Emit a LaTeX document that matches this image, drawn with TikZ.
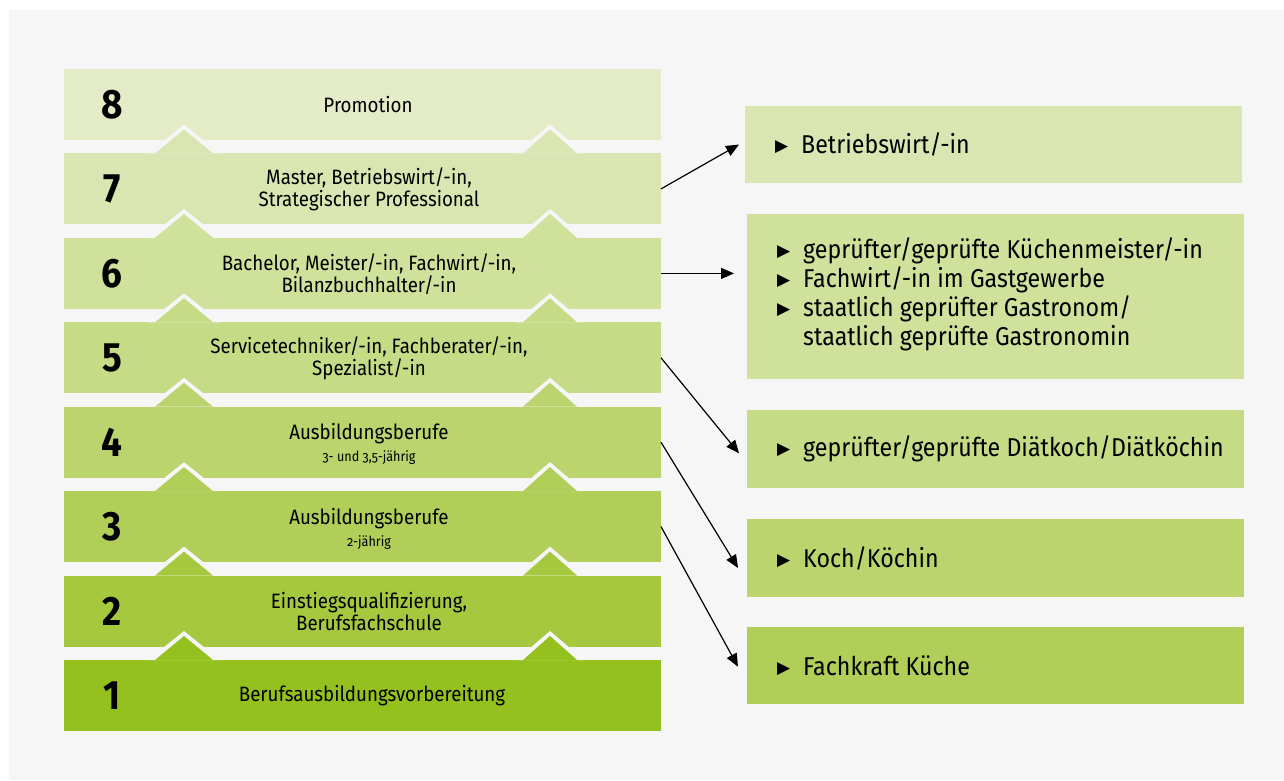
\documentclass[tikz,border=0pt]{standalone}
\usepackage{fontspec}
\setmainfont{Fira Sans}[FakeStretch=0.9]
\newfontfamily\symfont{DejaVu Sans}
\usepackage{tikz}
\usetikzlibrary{arrows.meta}

\definecolor{panel}{HTML}{F6F6F6}
\definecolor{lv8}{HTML}{E3ECC7}
\definecolor{lv7}{HTML}{DAE6B1}
\definecolor{lv6}{HTML}{D0E19B}
\definecolor{lv5}{HTML}{C6DB85}
\definecolor{lv4}{HTML}{BBD46E}
\definecolor{lv3}{HTML}{B1CE59}
\definecolor{lv2}{HTML}{A5C83E}
\definecolor{lv1}{HTML}{95C11F}

\newcommand{\itemmark}{\makebox[26pt][l]{\raisebox{2pt}{\symfont\fontsize{17}{17}\selectfont ▶}}}
\newcommand{\subline}[1]{{\fontsize{14}{15}\selectfont\addfontfeatures{Numbers=OldStyle}#1}}

\begin{document}
\begin{tikzpicture}[x=1pt, y=-1pt]
    % Styles
    \tikzstyle{band} = [rectangle, inner sep=0, outer sep=0, minimum width=597pt, minimum height=71pt]
    \tikzstyle{level} = [font=\fontsize{41}{41}\selectfont\bfseries]
    \tikzstyle{label} = [align=center, font=\fontsize{20.8}{22}\selectfont]
    \tikzstyle{goal} = [rectangle, inner sep=0, outer sep=0, minimum width=497pt]
    \tikzstyle{items} = [align=left, anchor=west, inner sep=0, font=\fontsize{25.8}{28.8}\selectfont]
    \tikzstyle{arrow} = [-{Triangle[length=13pt, width=11pt]}, line width=1.2pt]
    \tikzset{bumps/.pic={
        \fill[panel] (84,0) -- (120,-29) -- (156,0) -- cycle (452,0) -- (486,-29) -- (520,0) -- cycle;
        \fill[pic actions] (91,0) -- (120,-24) -- (149,0) -- cycle (459,0) -- (486,-24) -- (513,0) -- cycle;
    }}

    % Background
    \useasboundingbox (0,0) rectangle (1284,780);
    \fill[white] (0,0) rectangle (1284,780);
    \fill[panel] (9,10) rectangle (1284,780);

    % Levels
    \node[band, fill=lv8] (b8) at (362.5,104.5) {};
    \node[band, fill=lv7] (b7) at (362.5,188.9) {};
    \pic[fill=lv7] at (b7.north west) {bumps};
    \node[band, fill=lv6] (b6) at (362.5,273.4) {};
    \pic[fill=lv6] at (b6.north west) {bumps};
    \node[band, fill=lv5] (b5) at (362.5,357.8) {};
    \pic[fill=lv5] at (b5.north west) {bumps};
    \node[band, fill=lv4] (b4) at (362.5,442.2) {};
    \pic[fill=lv4] at (b4.north west) {bumps};
    \node[band, fill=lv3] (b3) at (362.5,526.6) {};
    \pic[fill=lv3] at (b3.north west) {bumps};
    \node[band, fill=lv2] (b2) at (362.5,611.1) {};
    \pic[fill=lv2] at (b2.north west) {bumps};
    \node[band, fill=lv1] (b1) at (362.5,695.5) {};
    \pic[fill=lv1] at (b1.north west) {bumps};

    % Numbers
    \node[level] (n8) at (112,104.5) {8};
    \node[level] (n7) at (112,188.9) {7};
    \node[level] (n6) at (112,273.4) {6};
    \node[level] (n5) at (112,357.8) {5};
    \node[level] (n4) at (112,442.2) {4};
    \node[level] (n3) at (112,526.6) {3};
    \node[level] (n2) at (112,611.1) {2};
    \node[level] (n1) at (112,695.5) {1};

    % Labels
    \node[label] (t8) at (368,104.5) {Promotion};
    \node[label] (t7) at (369,189.5) {Master, Betriebswirt/-in,\\Strategischer Professional};
    \node[label] (t6) at (369,274) {Bachelor, Meister/-in, Fachwirt/-in,\\Bilanzbuchhalter/-in};
    \node[label] (t5) at (369,358.5) {Servicetechniker/-in, Fachberater/-in,\\Spezialist/-in};
    \node[label] (t4) at (369,444) {Ausbildungsberufe\\\subline{3- und 3,5-jährig}};
    \node[label] (t3) at (369,528.5) {Ausbildungsberufe\\\subline{2-jährig}};
    \node[label] (t2) at (369,611.5) {Einstiegsqualifizierung,\\Berufsfachschule};
    \node[label] (t1) at (372,696) {Berufsausbildungsvorbereitung};

    % Qualifications
    \node[goal, fill=lv7, minimum height=77pt] (boxA) at (993.5,144.5) {};
    \node[goal, fill=lv6, minimum height=165pt] (boxB) at (995.5,296.5) {};
    \node[goal, fill=lv5, minimum height=78pt] (boxC) at (995.5,449) {};
    \node[goal, fill=lv4, minimum height=78pt] (boxD) at (995.5,558) {};
    \node[goal, fill=lv3, minimum height=77pt] (boxE) at (995.5,665.5) {};

    \node[items] (qA) at ([xshift=30pt]boxA.west) {\itemmark Betriebswirt/-in};
    \node[items] (qB) at ([xshift=30pt, yshift=2pt]boxB.west) {\itemmark geprüfter/geprüfte Küchenmeister/-in\\
        \itemmark Fachwirt/-in im Gastgewerbe\\
        \itemmark staatlich geprüfter Gastronom/\\
        \makebox[26pt]{}staatlich geprüfte Gastronomin};
    \node[items] (qC) at ([xshift=30pt]boxC.west) {\itemmark geprüfter/geprüfte Diätkoch/Diätköchin};
    \node[items] (qD) at ([xshift=30pt]boxD.west) {\itemmark Koch/Köchin};
    \node[items] (qE) at ([xshift=30pt]boxE.west) {\itemmark Fachkraft Küche};

    % Arrows
    \draw[arrow] (b7.east) -- ([xshift=-6pt]boxA.west);
    \draw[arrow] (b6.east) -- ([xshift=-13pt, yshift=23.1pt]boxB.west);
    \draw[arrow] (b5.east) -- ([xshift=-8pt, yshift=-4.3pt]boxC.west);
    \draw[arrow] (b4.east) -- ([xshift=-9pt, yshift=-10pt]boxD.west);
    \draw[arrow] (b3.east) -- ([xshift=-9pt, yshift=-1.2pt]boxE.west);
\end{tikzpicture}
\end{document}
